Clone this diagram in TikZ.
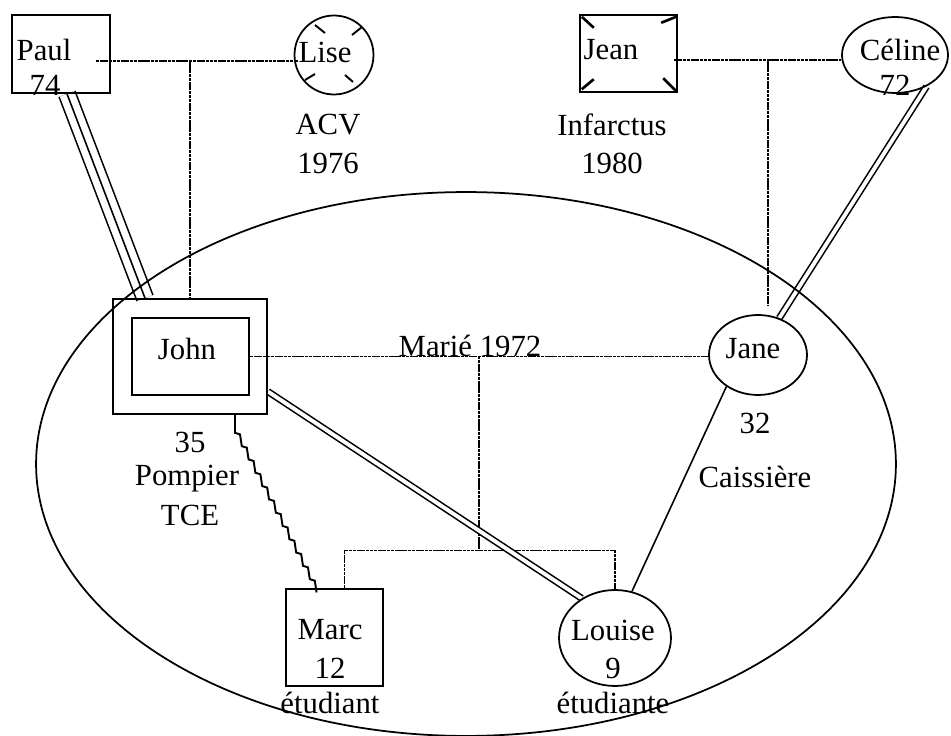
\documentclass[tikz,border=0pt]{standalone}
\usepackage{fontspec}
\setmainfont{Liberation Serif}
\usetikzlibrary{shapes.geometric, positioning, calc, backgrounds}

\tikzset{
  person/.style={draw, line width=1pt, inner sep=0pt},
  male/.style={person, rectangle},
  female/.style={person, ellipse},
  txt/.style={inner sep=0pt, font=\fontsize{17.5}{20}\selectfont},
  rel/.style={line width=0.7pt, dash pattern=on 2pt off 0.4pt},
  link/.style={line width=0.9pt},
  dbl/.style={double, double distance=2.2pt, line width=0.9pt},
  triple/.style={draw=white, line width=8.7pt, preaction={draw=black, line width=10.5pt}, postaction={draw=black, line width=0.9pt}},
  tick/.style={line width=1.5pt},
  stairs/.style={line width=1.1pt}
}

\begin{document}
\begin{tikzpicture}[x=0.02cm, y=-0.02cm]
  \useasboundingbox (0,0) rectangle (951,736);

  % Grand-parents
  \node[male, minimum width=1.96cm, minimum height=1.56cm] (paul) at (61,54) {};
  \node[person, circle, minimum size=1.58cm] (lise) at (334,55) {};
  \node[male, line width=1.4pt, minimum width=1.94cm, minimum height=1.54cm] (jean) at (628.5,53.5) {};
  \node[female, minimum width=2.12cm, minimum height=1.52cm] (celine) at (895,55) {};

  % Parents
  \node[male, minimum width=3.08cm, minimum height=2.3cm] (john) at (190,356.5) {};
  \node[male, minimum width=2.34cm, minimum height=1.54cm] (johnin) at (190.5,356.5) {};
  \node[female, minimum width=1.96cm, minimum height=1.6cm] (jane) at (758,355) {};

  % Children
  \node[male, minimum size=1.94cm] (marc) at (334.5,637.5) {};
  \node[female, minimum width=2.24cm, minimum height=1.92cm] (louise) at (615,638) {};

  % Deaths
  \draw[tick] (jean.north west) ++(3,3) -- ++(12,11);
  \draw[tick] (jean.north east) ++(-2,3) -- ++(-15,6);
  \draw[tick] (jean.south west) ++(3,-4) -- ++(12,-10);
  \draw[tick] (jean.south east) ++(-2,-2) -- ++(-13,-13);
  \draw[tick, line width=1.1pt] (lise.center) ++(-19,-30) -- ++(10,8);
  \draw[tick, line width=1.1pt] (lise.center) ++(28,-28) -- ++(-10,8);
  \draw[tick, line width=1.1pt] (lise.center) ++(-29,25) -- ++(10,-6);
  \draw[tick, line width=1.1pt] (lise.center) ++(19,27) -- ++(-8,-7);

  % Texts
  \node[txt] (paulname) at (44,50) {Paul};
  \node[txt] (paulage) at (45,85) {74};
  \node[txt] (lisename) at (325,52) {Lise};
  \node[txt] (acv) at (328,125) {ACV};
  \node[txt] (acvyear) at (328,163) {1976};
  \node[txt] (jeanname) at (611,50) {Jean};
  \node[txt] (infarct) at (612,125) {Infarctus};
  \node[txt] (infarctyear) at (612,163) {1980};
  \node[txt] (celinename) at (900,50) {Céline};
  \node[txt] (celineage) at (895,85) {72};
  \node[txt] (johnname) at (187,349) {John};
  \node[txt] (johnage) at (190,442) {35};
  \node[txt] (johnjob) at (187,479) {Pompier};
  \node[txt] (johntce) at (190,515) {TCE};
  \node[txt, anchor=base] (married) at (470,357) {Marié 1972};
  \node[txt] (janename) at (753,349) {Jane};
  \node[txt] (janeage) at (755,423) {32};
  \node[txt] (janejob) at (755,477) {Caissière};
  \node[txt] (marcname) at (330,630) {Marc};
  \node[txt] (marcage) at (330,668) {12};
  \node[txt] (marcjob) at (330,703) {étudiant};
  \node[txt] (louisename) at (613,630) {Louise};
  \node[txt] (louiseage) at (613,668) {9};
  \node[txt] (louisejob) at (613,703) {étudiante};

  \begin{pgfonlayer}{background}
    % Couples
    \draw[rel] ([xshift=-0.3cm,yshift=-0.14cm]paul.east) coordinate (pl) -- (pl -| lisename.west);
    \draw[rel] (pl -| john.north) -- (john.north);
    \draw[rel] ([xshift=-0.08cm,yshift=-0.13cm]jean.east) coordinate (jc) -- (jc -| celine.west);
    \draw[rel] ($(jc -| jane.north)+(10,0)$) -- ($(jane.north)+(10,-8)$);
    \draw[rel] (johnin.east) -- (johnin.east -| jane.west);
    \coordinate (mj) at ($(johnin.east)!0.5!(jane.west)$);

    % Siblings
    \draw[rel] ($(marc.north)+(10,0)$) -- ++(0,-38) coordinate (sibl) -- (sibl -| louise.north) -- (louise.north);
    \draw[rel] (mj) -- (mj |- sibl);

    % Bonds
    \draw[triple] ($(paul.south)+(6,0)$) -- ($(john.north)+(-45,0)$);
    \draw[dbl] (celine.-45) -- (jane.60);
    \draw[dbl] ($(john.east)+(0,35)$) -- (louise.130);
    \draw[link] (jane.225) -- (louise.70);
    \draw[stairs] ($(john.south)+(45,0)$) -- ++(0,18) \foreach \k in {1,...,12} { -- ++(5,1.5) -- ++(1.8,11.8) };
  \end{pgfonlayer}

  % Household
  \draw[line width=1pt] (466,464) ellipse [x radius=8.6cm, y radius=5.44cm];
\end{tikzpicture}
\end{document}
